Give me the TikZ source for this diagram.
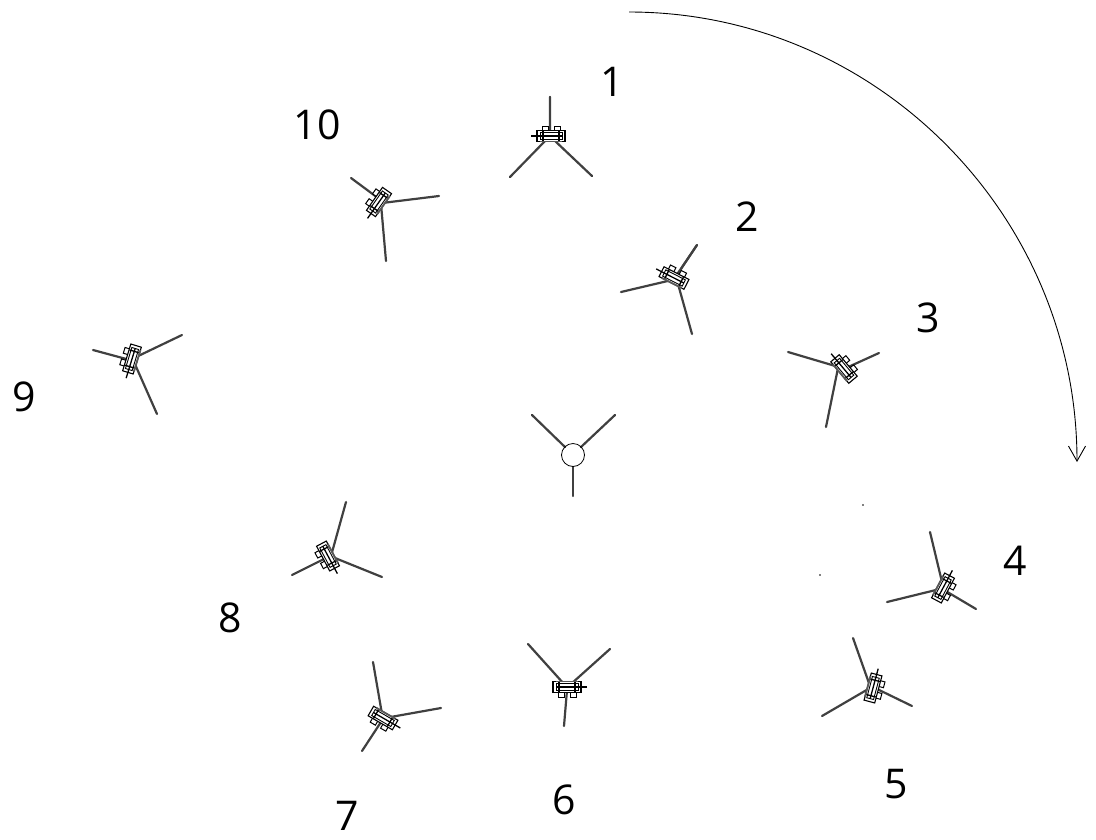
\documentclass[tikz,border=0pt]{standalone}
\usepackage{fontspec}
\setmainfont{Open Sans}
\usetikzlibrary{arrows.meta}
\tikzset{
  blade/.style={line width=2.2pt,draw=black!75,line cap=round},
  lab/.style={font=\fontsize{41}{41}\selectfont,inner sep=0pt,text=black},
  nacelle/.pic={
    \draw[line width=1pt,fill=white] (-9,-10) rectangle (-3,-4);
    \draw[line width=1pt,fill=white] (3,-10) rectangle (9,-4);
    \draw[line width=1.1pt,fill=white] (-14,-5.5) rectangle (14,5.5);
    \draw[line width=.9pt] (-11,-3.5) rectangle (11,3.5);
    \draw[line width=1.3pt] (-20,0) -- (11,0);
    \draw[line width=1.3pt] (-8,-5) -- (-8,5) (8,-5) -- (8,5);
    \draw[line width=1.8pt,draw=black!65] (-11,5.5) -- (11,5.5);
  }
}
\begin{document}
\begin{tikzpicture}[x=1pt,y=-1pt]
\useasboundingbox (0,0) rectangle (1096,839);
% sweep arrow
\coordinate (arcS) at (629,12);
\coordinate (arcE) at (1077,462);
\draw[line width=.9pt,-{Straight Barb[length=15pt,width=17pt,line width=.9pt]}] (arcS) .. controls (876,12) and (1077,215) .. (arcE);
% central rotor
\draw[blade] (532,415) -- (565,447);
\draw[blade] (615,415) -- (581,447);
\draw[blade] (573,496) -- (573,467);
\node[circle,draw,line width=.8pt,minimum size=23pt,inner sep=0pt] (hub) at (573,455) {};
% turbine 1
\draw[blade] (550,97) -- (550,130) (510,177) -- (546,140) (592,176) -- (554,140);
\pic[rotate=0] at (551,136) {nacelle};
\draw[blade] (550,97) -- (550,128);
% turbine 2
\draw[blade] (697,245) -- (676,276) (621,292) -- (672,280) (692,334) -- (678,284);
\pic[rotate=-27] at (674,278) {nacelle};
\draw[blade] (697,245) -- (681,269);
% turbine 3
\draw[blade] (788,352) -- (842,368) (879,353) -- (846,368) (826,427) -- (838,368);
\pic[rotate=-50] at (844,369) {nacelle};
% turbine 4
\draw[blade] (930,532) -- (942,582) (887,602) -- (940,589) (976,609) -- (944,590);
\pic[rotate=-118] at (943,588) {nacelle};
% turbine 5
\draw[blade] (853,638) -- (870,686) (822,716) -- (870,688) (912,706) -- (875,688);
\pic[rotate=-105] at (873,688) {nacelle};
% turbine 6
\draw[blade] (528,644) -- (564,684) (610,649) -- (571,684) (564,726) -- (567,690);
\pic[rotate=180] at (567,687) {nacelle};
% turbine 7
\draw[blade] (373,662) -- (382,714) (441,708) -- (385,718) (362,751) -- (381,722);
\pic[rotate=150] at (383,718) {nacelle};
% turbine 8
\draw[blade] (346,502) -- (331,556) (292,575) -- (326,558) (382,577) -- (330,556);
\pic[rotate=118] at (328,556) {nacelle};
% turbine 9
\draw[blade] (93,350) -- (130,360) (182,335) -- (134,358) (157,414) -- (134,362);
\pic[rotate=73] at (132,359) {nacelle};
% turbine 10
\draw[blade] (351,178) -- (378,198) (439,196) -- (382,203) (386,261) -- (381,204);
\pic[rotate=55] at (379,202) {nacelle};
% stray specks
\fill (863,505) circle (.9);
\fill (820,575) circle (.9);
% labels
\node[lab] (l1) at (612,82) {1};
\node[lab] (l2) at (747,217) {2};
\node[lab] (l3) at (928,318) {3};
\node[lab] (l4) at (1015,561) {4};
\node[lab] (l5) at (896,784) {5};
\node[lab] (l6) at (564,800) {6};
\node[lab] (l7) at (347,816) {7};
\node[lab] (l8) at (230,618) {8};
\node[lab] (l9) at (24,397) {9};
\node[lab] (l10) at (317,125) {10};
\end{tikzpicture}
\end{document}
